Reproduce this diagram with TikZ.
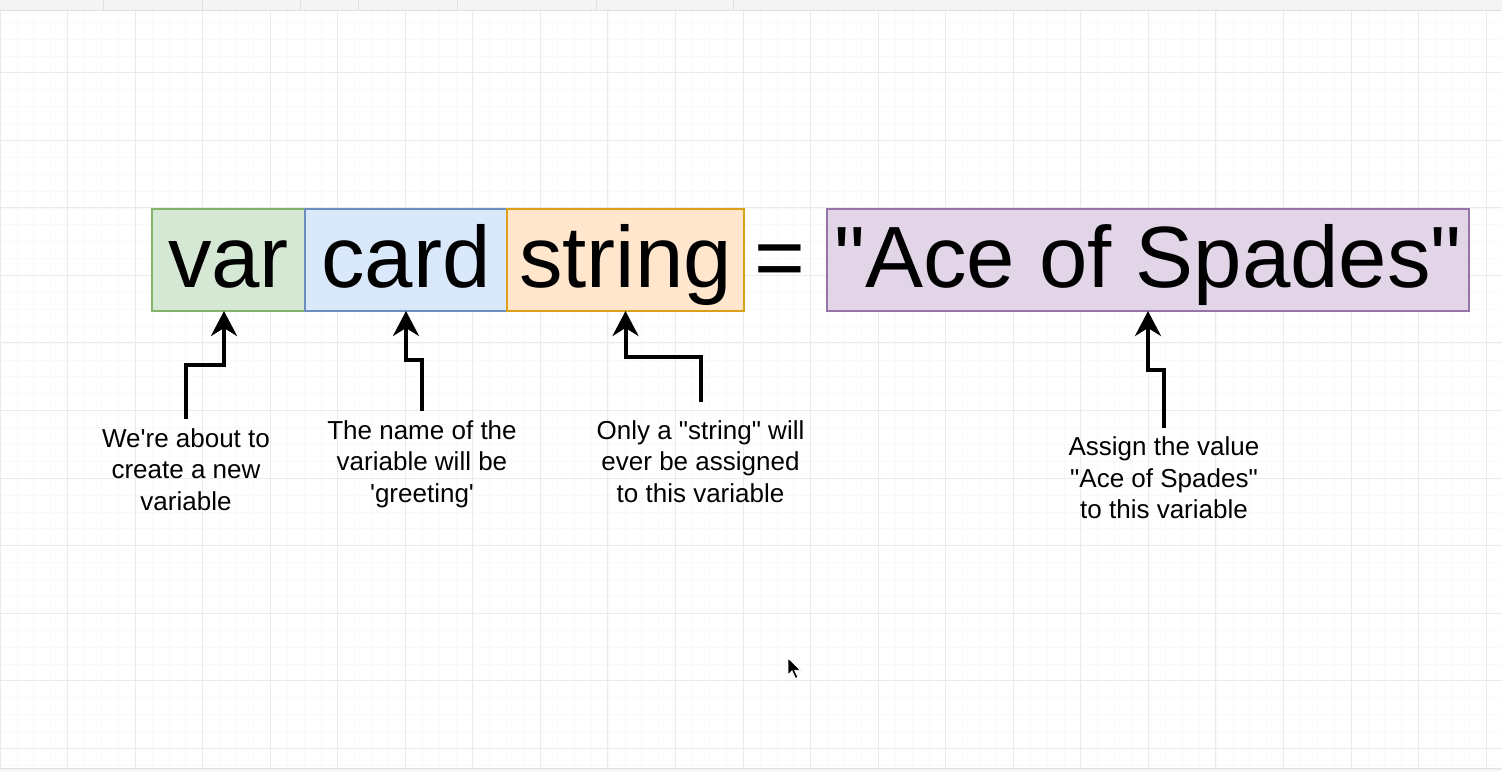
\documentclass[tikz,border=0pt]{standalone}
\usepackage{fontspec}
\setmainfont{Liberation Sans}[Ligatures=TeXOff]
\usepackage{tikz}
\usetikzlibrary{arrows.meta,positioning}
\definecolor{gridmajor}{HTML}{EBEBEB}
\definecolor{gridminor}{HTML}{F9F9F9}
\definecolor{barback}{HTML}{F4F4F4}
\definecolor{barline}{HTML}{E0E0E0}
\definecolor{kwfill}{HTML}{D5E8D4}
\definecolor{kwline}{HTML}{82B366}
\definecolor{namefill}{HTML}{DAE8FC}
\definecolor{nameline}{HTML}{6C8EBF}
\definecolor{typefill}{HTML}{FFE6CC}
\definecolor{typeline}{HTML}{D9A11A}
\definecolor{valfill}{HTML}{E1D5E7}
\definecolor{valline}{HTML}{9673A6}

\tikzset{
  token/.style={draw, line width=2.5pt, outer sep=0pt, inner sep=0pt, minimum height=102pt,
    text height=66pt, text depth=12pt, font=\fontsize{87}{87}\selectfont},
  note/.style={align=center, anchor=north, inner sep=0pt, font=\fontsize{26}{31.7}\selectfont},
  pointer/.style={-{Stealth[length=25pt,width=26pt,inset=8pt]}, line width=4pt, shorten <=9pt}
}

\begin{document}
\begin{tikzpicture}[x=1pt, y=-1pt]
      \useasboundingbox (0,0) rectangle (1502,771);
      % grid of the canvas
      \foreach \i in {0,...,89} \draw[gridminor, line width=0.6pt] (\i*16.8875,10) -- (\i*16.8875,768);
      \foreach \i in {0,...,45} \draw[gridminor, line width=0.6pt] (0,5.2+\i*16.8875) -- (1502,5.2+\i*16.8875);
      \foreach \i in {0,...,22} \draw[gridmajor, line width=1pt] (\i*67.55,10) -- (\i*67.55,768);
      \foreach \i in {1,...,11} \draw[gridmajor, line width=1pt] (0,5.2+\i*67.55) -- (1502,5.2+\i*67.55);
      \fill[barback] (0,0) rectangle (1502,10);
      \draw[barline] (0,10) -- (1502,10);
      \foreach \x in {103,202,300,358,457,596,733} \draw[barline] (\x,0) -- (\x,10);
      \fill[barback] (0,768) rectangle (1502,771);
      \draw[barline] (0,768) -- (1502,768);

      \node[token, fill=kwfill, draw=kwline, minimum width=153pt] (kw) at (228.5,260) {var};
      \node[token, fill=namefill, draw=nameline, minimum width=202pt, right=0pt of kw] (name) {card};
      \node[token, fill=typefill, draw=typeline, minimum width=237pt, right=0pt of name] (type) {string};
      \node[token, fill=valfill, draw=valline, minimum width=642pt, right=83pt of type] (val) {"Ace of Spades"};
      \node[token, draw=none] (eq) at (779.5,260) {=};

      \node[note] (lkw) at (186,428) {We're about to\\create a new\\variable};
      \node[note] (lname) at (422,420) {The name of the\\variable will be\\'greeting'};
      \node[note] (ltype) at (700.5,420) {Only a "string" will\\ever be assigned\\to this variable};
      \node[note] (lval) at (1164,436.5) {Assign the value\\"Ace of Spades"\\to this variable};

      \draw[pointer] (lkw.north) -- ++(0,-63) -| ([xshift=-4.5pt]kw.south);
      \draw[pointer] (lname.north) -- ++(0,-60) -| (name.south);
      \draw[pointer, shorten <=18pt] (ltype.north) -- ++(0,-63) -| (type.south);
      \draw[pointer] (lval.north) -- ++(0,-66.5) -| (val.south);

%      mouse pointer
      \fill[draw=white, line width=0.8pt] (788,658) -- ++(0,17) -- ++(4,-4) -- ++(3.5,7.5) -- ++(2.5,-1.2) -- ++(-3.4,-7) -- ++(6,0) -- cycle;
\end{tikzpicture}
\end{document}
